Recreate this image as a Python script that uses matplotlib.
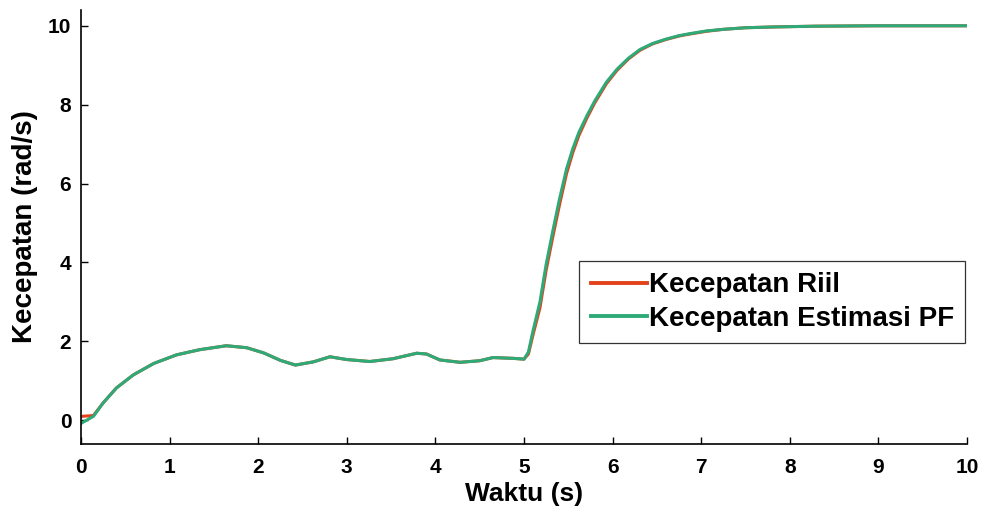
import numpy as np
import matplotlib
matplotlib.use("Agg")
import matplotlib.pyplot as plt

plt.rcParams['font.family'] = ['Liberation Sans', 'DejaVu Sans']
plt.rcParams['font.weight'] = 'bold'

# waktu (s) dan kecepatan (rad/s)
waktu = [0.0, 0.14, 0.25, 0.4, 0.59, 0.82, 1.08, 1.34, 1.64, 1.87, 2.06, 2.25,
         2.42, 2.62, 2.81, 3.0, 3.26, 3.52, 3.79, 3.9, 4.05, 4.28, 4.5, 4.65,
         4.88, 5.0, 5.05, 5.1, 5.18, 5.25, 5.33, 5.4, 5.48, 5.55, 5.62, 5.71,
         5.8, 5.93, 6.05, 6.18, 6.31, 6.45, 6.6, 6.75, 6.87, 7.06, 7.25, 7.5,
         7.81, 8.3, 9.0, 10.0]
kec_riil = [0.1, 0.12, 0.44, 0.82, 1.15, 1.44, 1.66, 1.79, 1.89, 1.84, 1.71,
            1.52, 1.4, 1.48, 1.61, 1.54, 1.49, 1.56, 1.7, 1.68, 1.53, 1.47,
            1.51, 1.59, 1.57, 1.55, 1.68, 2.15, 2.85, 3.8, 4.7, 5.45, 6.25,
            6.78, 7.22, 7.66, 8.05, 8.53, 8.87, 9.16, 9.38, 9.54, 9.65, 9.74,
            9.79, 9.86, 9.91, 9.95, 9.97, 9.99, 10.0, 10.0]
kec_pf = [-0.08, 0.1, 0.44, 0.82, 1.15, 1.44, 1.66, 1.79, 1.89, 1.84, 1.71,
          1.52, 1.4, 1.48, 1.61, 1.54, 1.49, 1.56, 1.7, 1.68, 1.53, 1.47,
          1.51, 1.59, 1.57, 1.55, 1.73, 2.25, 3.0, 3.95, 4.85, 5.6, 6.37,
          6.88, 7.3, 7.72, 8.1, 8.57, 8.9, 9.18, 9.4, 9.55, 9.66, 9.75, 9.8,
          9.87, 9.91, 9.95, 9.97, 9.99, 10.0, 10.0]

fig = plt.figure(figsize=(9.84, 5.18), dpi=100)
ax = fig.add_axes([0.0823, 0.1429, 0.9004, 0.8378])

ax.plot(waktu, kec_riil, color='#e2431c', lw=2.2, label='Kecepatan Riil')
ax.plot(waktu, kec_pf, color='#2eaa78', lw=2.2, label='Kecepatan Estimasi PF')

ax.set_xlim(0, 10)
ax.set_ylim(-0.6, 10.4)
ax.set_xticks(range(0, 11))
ax.set_yticks(range(0, 11, 2))
ax.tick_params(direction='in', length=5, width=1, labelsize=15)
ax.tick_params(axis='x', pad=10)
ax.tick_params(axis='y', pad=7)
for s in ['top', 'right']:
    ax.spines[s].set_visible(False)
for s in ['left', 'bottom']:
    ax.spines[s].set_linewidth(1.2)

ax.set_xlabel('Waktu (s)', fontsize=19, fontweight='bold', labelpad=4)
ax.set_ylabel('Kecepatan (rad/s)', fontsize=20, fontweight='bold', labelpad=7)

leg = ax.legend(loc='upper right', bbox_to_anchor=(0.998, 0.421), fontsize=20,
                handlelength=2.05, handletextpad=0.05, borderpad=0.4,
                labelspacing=0.28, borderaxespad=0, fancybox=False,
                edgecolor='#333333', framealpha=1)
leg.get_frame().set_linewidth(0.9)
for line in leg.get_lines():
    line.set_linewidth(2.8)

fig.savefig('out.png', dpi=100)
